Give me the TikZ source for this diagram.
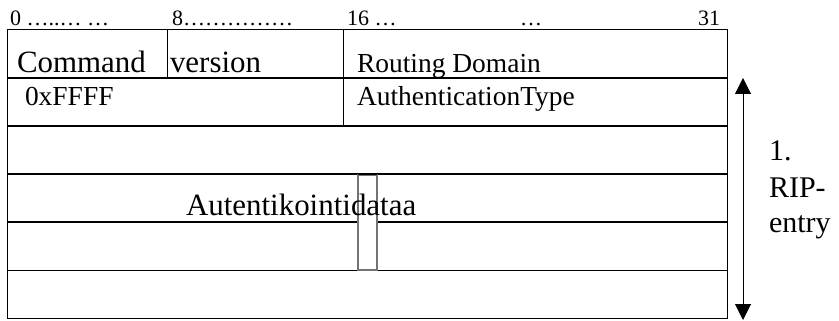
\documentclass[tikz,border=0pt]{standalone}
\usepackage{fontspec}
\setmainfont{Liberation Serif}
\usetikzlibrary{arrows.meta}
\begin{document}
\begin{tikzpicture}[x=0.75pt,y=-0.75pt,
  thin line/.style={line width=0.75pt},
  thick line/.style={line width=1.1pt},
  txt/.style={anchor=base west,inner sep=0pt,outer sep=0pt},
  big/.style={txt,font=\fontsize{23.2pt}{27pt}\selectfont},
  mid/.style={txt,font=\fontsize{20.6pt}{24pt}\selectfont},
  hdr/.style={txt,font=\fontsize{16.5pt}{20pt}\selectfont}]
\useasboundingbox (0,0) rectangle (839,321);
% outer frame and rows
\draw[thin line] (7.5,30) rectangle (727.5,318);
\draw[thick line] (7.5,78) -- (727.5,78);
\draw[thick line] (7.5,126) -- (727.5,126);
\draw[thick line] (7.5,174) -- (727.5,174);
\draw[thick line] (7.5,222) -- (727.5,222);
\draw[thin line] (7.5,270) -- (727.5,270);
\draw[thin line] (167,30) -- (167,78);
\draw[thin line] (343,30) -- (343,126);
% small grey box
\draw[line width=0.9pt,draw=black!55,fill=white] (358,175) rectangle (377,270);
\draw[thick line] (358,174) -- (377,174);
% header
\node[hdr] (h0) at (10,26) {0 …..… …};
\node[hdr] (h8) at (172,26) {8……………};
\node[hdr] (h16) at (347,26) {16 …};
\node[hdr] (hd) at (520,26) {…};
\node[hdr,anchor=base east] (h31) at (720,26) {31};
% field texts
\node[big] (cmd) at (17,73) {Command};
\node[big] (ver) at (170,73) {version};
\node[mid] (rd) at (357,73) {Routing Domain};
\node[mid] (ff) at (25,106) {0xFFFF};
\node[mid] (at) at (357,106) {AuthenticationType};
\node[big] (ad) at (186,215) {Autentikointidataa};
% side arrow and label
\coordinate (atop) at (743,78);
\coordinate (abot) at (743,320);
\draw[thin line,{Triangle[length=12pt,width=12pt]}-{Triangle[length=12pt,width=12pt]}] (atop) -- (abot);
\node[big,font=\fontsize{22.5pt}{27pt}\selectfont] (l1) at (769,161) {1.};
\node[big,font=\fontsize{22.5pt}{27pt}\selectfont] (l2) at (769,197) {RIP-};
\node[big,font=\fontsize{22.5pt}{27pt}\selectfont] (l3) at (769,232) {entry};
\end{tikzpicture}
\end{document}
